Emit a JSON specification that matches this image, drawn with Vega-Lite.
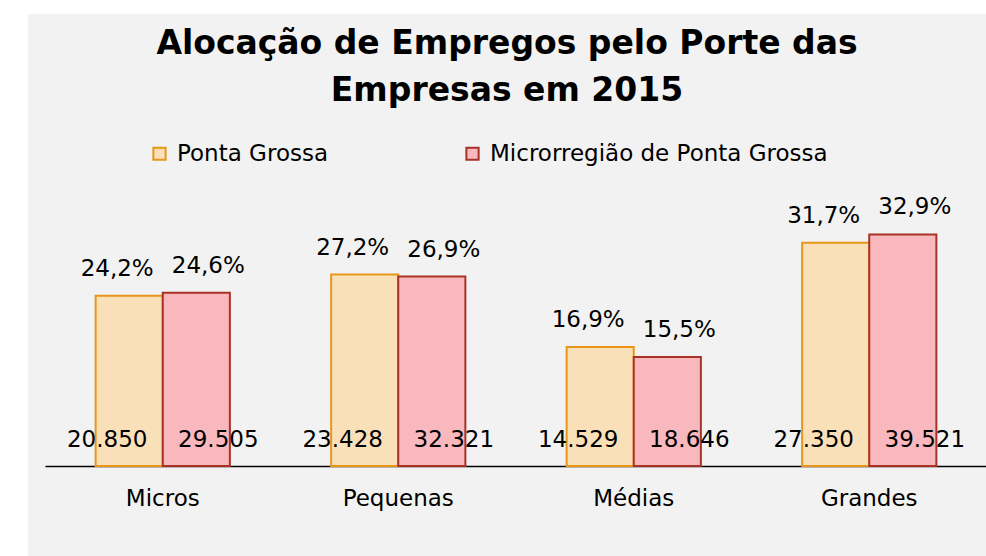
{
  "$schema": "https://vega.github.io/schema/vega-lite/v6.json",
  "width": 958,
  "height": 542,
  "autosize": {"type": "none"},
  "padding": {"left": 28, "top": 14, "right": 0, "bottom": 0},
  "background": "white",
  "config": {
    "view": {"fill": "#f2f2f2", "stroke": null},
    "font": "DejaVu Sans"
  },
  "title": {
    "text": ["Alocação de Empregos pelo Porte das", "Empresas em 2015"],
    "font": "DejaVu Sans",
    "fontSize": 33,
    "fontWeight": "bold",
    "color": "#000000",
    "anchor": "middle",
    "frame": "group",
    "lineHeight": 47,
    "offset": -94
  },
  "data": {
    "values": [
      {"porte": "Micros", "serie": "Ponta Grossa", "pct": 24.2, "pctLabel": "24,2%", "count": "20.850"},
      {"porte": "Micros", "serie": "Microrregião de Ponta Grossa", "pct": 24.6, "pctLabel": "24,6%", "count": "29.505"},
      {"porte": "Pequenas", "serie": "Ponta Grossa", "pct": 27.2, "pctLabel": "27,2%", "count": "23.428"},
      {"porte": "Pequenas", "serie": "Microrregião de Ponta Grossa", "pct": 26.9, "pctLabel": "26,9%", "count": "32.321"},
      {"porte": "Médias", "serie": "Ponta Grossa", "pct": 16.9, "pctLabel": "16,9%", "count": "14.529"},
      {"porte": "Médias", "serie": "Microrregião de Ponta Grossa", "pct": 15.5, "pctLabel": "15,5%", "count": "18.646"},
      {"porte": "Grandes", "serie": "Ponta Grossa", "pct": 31.7, "pctLabel": "31,7%", "count": "27.350"},
      {"porte": "Grandes", "serie": "Microrregião de Ponta Grossa", "pct": 32.9, "pctLabel": "32,9%", "count": "39.521"}
    ]
  },
  "encoding": {
    "x": {
      "field": "porte",
      "type": "nominal",
      "sort": ["Micros", "Pequenas", "Médias", "Grandes"],
      "scale": {"range": [17, 959], "paddingInner": 0.43, "paddingOuter": 0.215},
      "axis": {
        "title": null,
        "orient": "bottom",
        "offset": -90,
        "labelAngle": 0,
        "labelFontSize": 23,
        "labelColor": "#000000",
        "labelPadding": 21,
        "ticks": false,
        "domainColor": "#000000",
        "domainWidth": 1.5
      }
    },
    "xOffset": {
      "field": "serie",
      "type": "nominal",
      "sort": ["Ponta Grossa", "Microrregião de Ponta Grossa"],
      "scale": {"paddingInner": 0, "paddingOuter": 0}
    }
  },
  "layer": [
    {
      "mark": {"type": "bar", "strokeWidth": 2},
      "encoding": {
        "y": {
          "field": "pct",
          "type": "quantitative",
          "scale": {"domain": [-12.78, 64.2], "nice": false, "zero": false},
          "axis": null
        },
        "y2": {"datum": 0},
        "fill": {
          "field": "serie",
          "type": "nominal",
          "sort": ["Ponta Grossa", "Microrregião de Ponta Grossa"],
          "scale": {"range": ["#fae0b9", "#f9b7be"]},
          "legend": {
            "title": null,
            "orient": "none",
            "legendX": 120,
            "legendY": 128,
            "direction": "horizontal",
            "symbolType": "square",
            "symbolSize": 150,
            "symbolStrokeWidth": 2,
            "labelFontSize": 23,
            "labelColor": "#000000",
            "labelLimit": 500,
            "columnPadding": 132,
            "labelOffset": 6,
            "padding": 0,
            "encode": {
              "symbols": {
                "update": {
                  "stroke": {"scale": "stroke", "field": "value"},
                  "strokeWidth": {"value": 2}
                }
              }
            }
          }
        },
        "stroke": {
          "field": "serie",
          "type": "nominal",
          "sort": ["Ponta Grossa", "Microrregião de Ponta Grossa"],
          "scale": {"range": ["#e8961a", "#a93226"]},
          "legend": null
        }
      }
    },
    {
      "transform": [{"filter": "datum.serie === 'Ponta Grossa'"}],
      "mark": {"type": "text", "fontSize": 23, "color": "#000000", "baseline": "alphabetic", "dy": -20, "dx": -12},
      "encoding": {
        "y": {"field": "pct", "type": "quantitative"},
        "text": {"field": "pctLabel"}
      }
    },
    {
      "transform": [{"filter": "datum.serie !== 'Ponta Grossa'"}],
      "mark": {"type": "text", "fontSize": 23, "color": "#000000", "baseline": "alphabetic", "dy": -20, "dx": 12},
      "encoding": {
        "y": {"field": "pct", "type": "quantitative"},
        "text": {"field": "pctLabel"}
      }
    },
    {
      "transform": [{"filter": "datum.serie === 'Ponta Grossa'"}],
      "mark": {"type": "text", "fontSize": 23, "color": "#000000", "baseline": "alphabetic", "dy": -19, "dx": -22},
      "encoding": {
        "y": {"datum": 0},
        "text": {"field": "count"}
      }
    },
    {
      "transform": [{"filter": "datum.serie !== 'Ponta Grossa'"}],
      "mark": {"type": "text", "fontSize": 23, "color": "#000000", "baseline": "alphabetic", "dy": -19, "dx": 22},
      "encoding": {
        "y": {"datum": 0},
        "text": {"field": "count"}
      }
    }
  ]
}
